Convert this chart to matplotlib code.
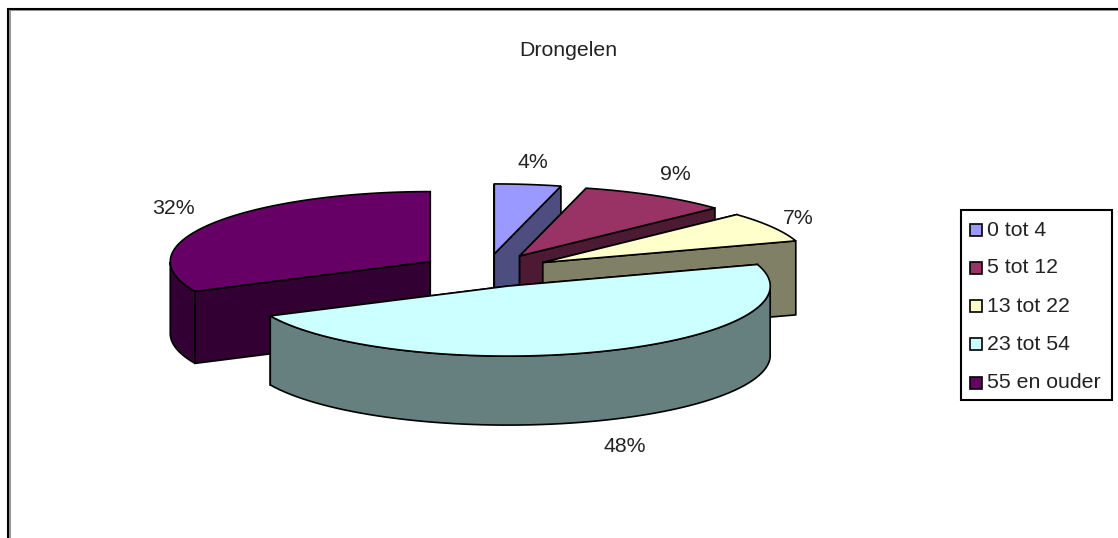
import numpy as np
import matplotlib
matplotlib.use("Agg")
import matplotlib.pyplot as plt
from matplotlib.patches import Polygon, Rectangle

plt.rcParams['font.family'] = ['Liberation Sans', 'DejaVu Sans']

# Data
title = "Drongelen"
categories = ["0 tot 4", "5 tot 12", "13 tot 22", "23 tot 54", "55 en ouder"]
values = [4, 9, 7, 48, 32]
colors = ["#9999FF", "#993366", "#FFFFCC", "#CCFFFF", "#660066"]
side_colors = ["#4D4D80", "#4D1A33", "#808066", "#668080", "#330033"]

# Geometry of the exploded pie, in image pixels
cx0, cy0 = 486, 270.5
ry = 70
explode_x, explode_y = 66, 15.7
# perspective makes the slices differ a little
slice_rx = [268, 268, 266, 262.5, 260]
slice_depth = [72, 72, 74, 69, 72]
nudge_x = [0, 0, 0, -2.5, 0]
nudge_y = [-1, -1, 0, 1, -0.5]

fig = plt.figure(figsize=(11.18, 5.38), dpi=100)
ax = fig.add_axes([0, 0, 1, 1])
ax.set_xlim(0, 1118)
ax.set_ylim(538, 0)
ax.axis("off")

# Chart frame, grey line first so the black one sits on top of it
ax.plot([9.5, 9.5, 1118], [538, 10, 10], color="#999999", lw=1.5)
ax.plot([8, 8, 1118], [538, 9, 9], color="black", lw=1.5, solid_joinstyle="miter")

edges = np.cumsum([0] + values) / sum(values) * 2 * np.pi


def draw_slice(i):
    a0, a1 = edges[i], edges[i + 1]
    mid = (a0 + a1) / 2
    cx = cx0 + explode_x * np.sin(mid) + nudge_x[i]
    cy = cy0 - explode_y * np.cos(mid) + nudge_y[i]
    rx = slice_rx[i]
    depth = slice_depth[i]
    # angle measured clockwise from 12 o'clock
    ang = np.linspace(a0, a1, 80)
    x = cx + rx * np.sin(ang)
    y = cy - ry * np.cos(ang)

    # radial walls
    for ex, ey in ((x[0], y[0]), (x[-1], y[-1])):
        wall = [(cx, cy), (ex, ey), (ex, ey + depth), (cx, cy + depth)]
        ax.add_patch(Polygon(wall, fc=side_colors[i], ec="black", lw=1.2))

    # outer wall, only the part that faces the viewer
    front = (ang >= np.pi / 2) & (ang <= 3 * np.pi / 2)
    if front.any():
        fx, fy = x[front], y[front]
        pts = list(zip(fx, fy)) + list(zip(fx[::-1], fy[::-1] + depth))
        ax.add_patch(Polygon(pts, fc=side_colors[i], ec="black", lw=1.2))

    # top face
    pts = [(cx, cy)] + list(zip(x, y))
    ax.add_patch(Polygon(pts, fc=colors[i], ec="black", lw=1.2))


# back slices first
for i in [0, 1, 2, 4, 3]:
    draw_slice(i)

# Text
ax.text(568, 50, title, ha="center", va="center", fontsize=15.3, color="#222222")
label_pos = [(533, 163), (675, 174), (798, 219), (625, 447), (173, 208)]
for v, (lx, ly) in zip(values, label_pos):
    ax.text(lx, ly, f"{v}%", ha="center", va="center", fontsize=15.3, color="#222222")

# Legend
ax.add_patch(Rectangle((960.5, 210), 151, 190, fc="white", ec="black", lw=1.5))
legend_y = [230, 267.5, 306, 344, 382.5]
for c, name, ly in zip(colors, categories, legend_y):
    ax.add_patch(Rectangle((969.5, ly - 6), 12, 12, fc=c, ec="black", lw=1.2))
    ax.text(987, ly, name, ha="left", va="center", fontsize=15.3, color="#222222")

fig.savefig("out.png", dpi=100)
